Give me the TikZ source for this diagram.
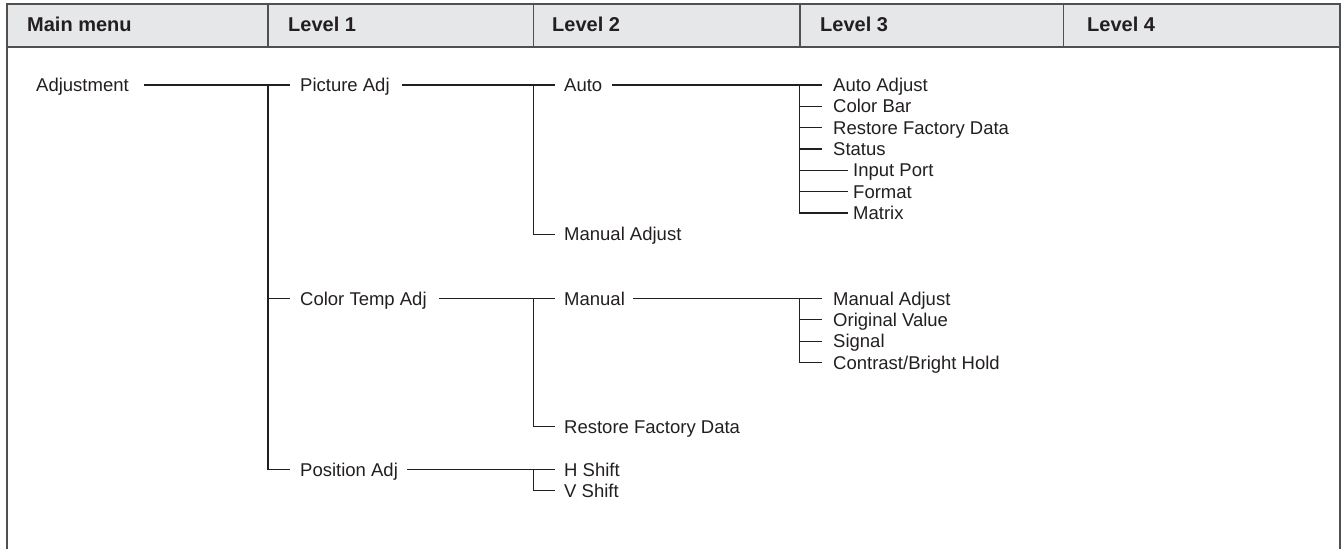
\documentclass[tikz,border=0pt]{standalone}
\usepackage{fontspec}
\setmainfont{Liberation Sans}
\definecolor{ink}{HTML}{231F20}
\definecolor{headfill}{HTML}{E6E7E8}
\definecolor{framecol}{HTML}{505050}
\tikzset{
  item/.style={anchor=west, inner sep=0pt, text height=13.2pt, text depth=0pt,
    font=\fontsize{18.5}{21}\selectfont, text=ink},
  headlabel/.style={anchor=west, inner sep=0pt, text height=14.3pt, text depth=0pt,
    font=\fontsize{20}{24}\selectfont\bfseries, text=ink},
  tree/.style={draw=ink, line width=1.1pt},
  framel/.style={draw=framecol, line width=1.5pt},
}
\begin{document}
\begin{tikzpicture}[x=1pt,y=-1pt]
\useasboundingbox (0,0) rectangle (1343,549);
% frame and header
\fill[headfill] (7,4) rectangle (1340,47);
\draw[framel] (7,549) -- (7,4) -- (1340,4) -- (1340,549);
\draw[framel] (7,47) -- (1340,47);
\foreach \x in {268,533.5,800,1063.5} \draw[framel] (\x,4) -- (\x,47);
\node[headlabel] (hmain) at (27,24) {Main menu};
\node[headlabel] (hl1) at (288,24) {Level 1};
\node[headlabel] (hl2) at (552,24) {Level 2};
\node[headlabel] (hl3) at (820,24) {Level 3};
\node[headlabel] (hl4) at (1087,24) {Level 4};
% column x positions of vertical connectors
\coordinate (v1) at (268,0);
\coordinate (v2) at (533.5,0);
\coordinate (v3) at (799.5,0);
% items
\node[item] (adj) at (36,85) {Adjustment};
\node[item] (pic) at (300,85) {Picture Adj};
\node[item] (ctemp) at (300,298.5) {Color Temp Adj};
\node[item] (posadj) at (300,469.5) {Position Adj};
\node[item] (auto) at (564,85) {Auto};
\node[item] (madj) at (564,234.3) {Manual Adjust};
\node[item] (manual) at (564,298.5) {Manual};
\node[item] (rfd2) at (564,426.8) {Restore Factory Data};
\node[item] (hshift) at (564,469.5) {H Shift};
\node[item] (vshift) at (564,490.8) {V Shift};
\node[item] (autoadj) at (833,85) {Auto Adjust};
\node[item] (colorbar) at (833,106.3) {Color Bar};
\node[item] (rfd3) at (833,127.7) {Restore Factory Data};
\node[item] (status) at (833,149) {Status};
\node[item] (input) at (853,170.3) {Input Port};
\node[item] (format) at (853,191.7) {Format};
\node[item] (matrix) at (853,213) {Matrix};
\node[item] (madj3) at (833,298.5) {Manual Adjust};
\node[item] (orig) at (833,319.8) {Original Value};
\node[item] (signal) at (833,341.1) {Signal};
\node[item] (contrast) at (833,362.4) {Contrast/Bright Hold};
% connectors: level 1
\draw[tree] ([xshift=15pt]adj.east) -- ([xshift=-10pt]pic.west);
\draw[tree] (v1 |- pic.west) |- ([xshift=-10pt]posadj.west);
\draw[tree] (v1 |- ctemp.west) -- ([xshift=-10pt]ctemp.west);
% Picture Adj subtree
\draw[tree] ([xshift=12pt]pic.east) -- ([xshift=-9pt]auto.west);
\draw[tree] (v2 |- auto.west) |- ([xshift=-9pt]madj.west);
\draw[tree] ([xshift=10pt]auto.east) -- ([xshift=-11pt]autoadj.west);
\draw[tree] (v3 |- autoadj.west) |- ([xshift=-5pt]matrix.west);
\foreach \n in {colorbar,rfd3,status} \draw[tree] (v3 |- \n.west) -- ([xshift=-11pt]\n.west);
\foreach \n in {input,format} \draw[tree] (v3 |- \n.west) -- ([xshift=-5pt]\n.west);
% Color Temp Adj subtree
\draw[tree] ([xshift=12pt]ctemp.east) -- ([xshift=-9pt]manual.west);
\draw[tree] (v2 |- manual.west) |- ([xshift=-9pt]rfd2.west);
\draw[tree] ([xshift=8pt]manual.east) -- ([xshift=-11pt]madj3.west);
\draw[tree] (v3 |- madj3.west) |- ([xshift=-11pt]contrast.west);
\foreach \n in {orig,signal} \draw[tree] (v3 |- \n.west) -- ([xshift=-11pt]\n.west);
% Position Adj subtree
\draw[tree] ([xshift=9pt]posadj.east) -- ([xshift=-9pt]hshift.west);
\draw[tree] (v2 |- hshift.west) |- ([xshift=-9pt]vshift.west);
\end{tikzpicture}
\end{document}
